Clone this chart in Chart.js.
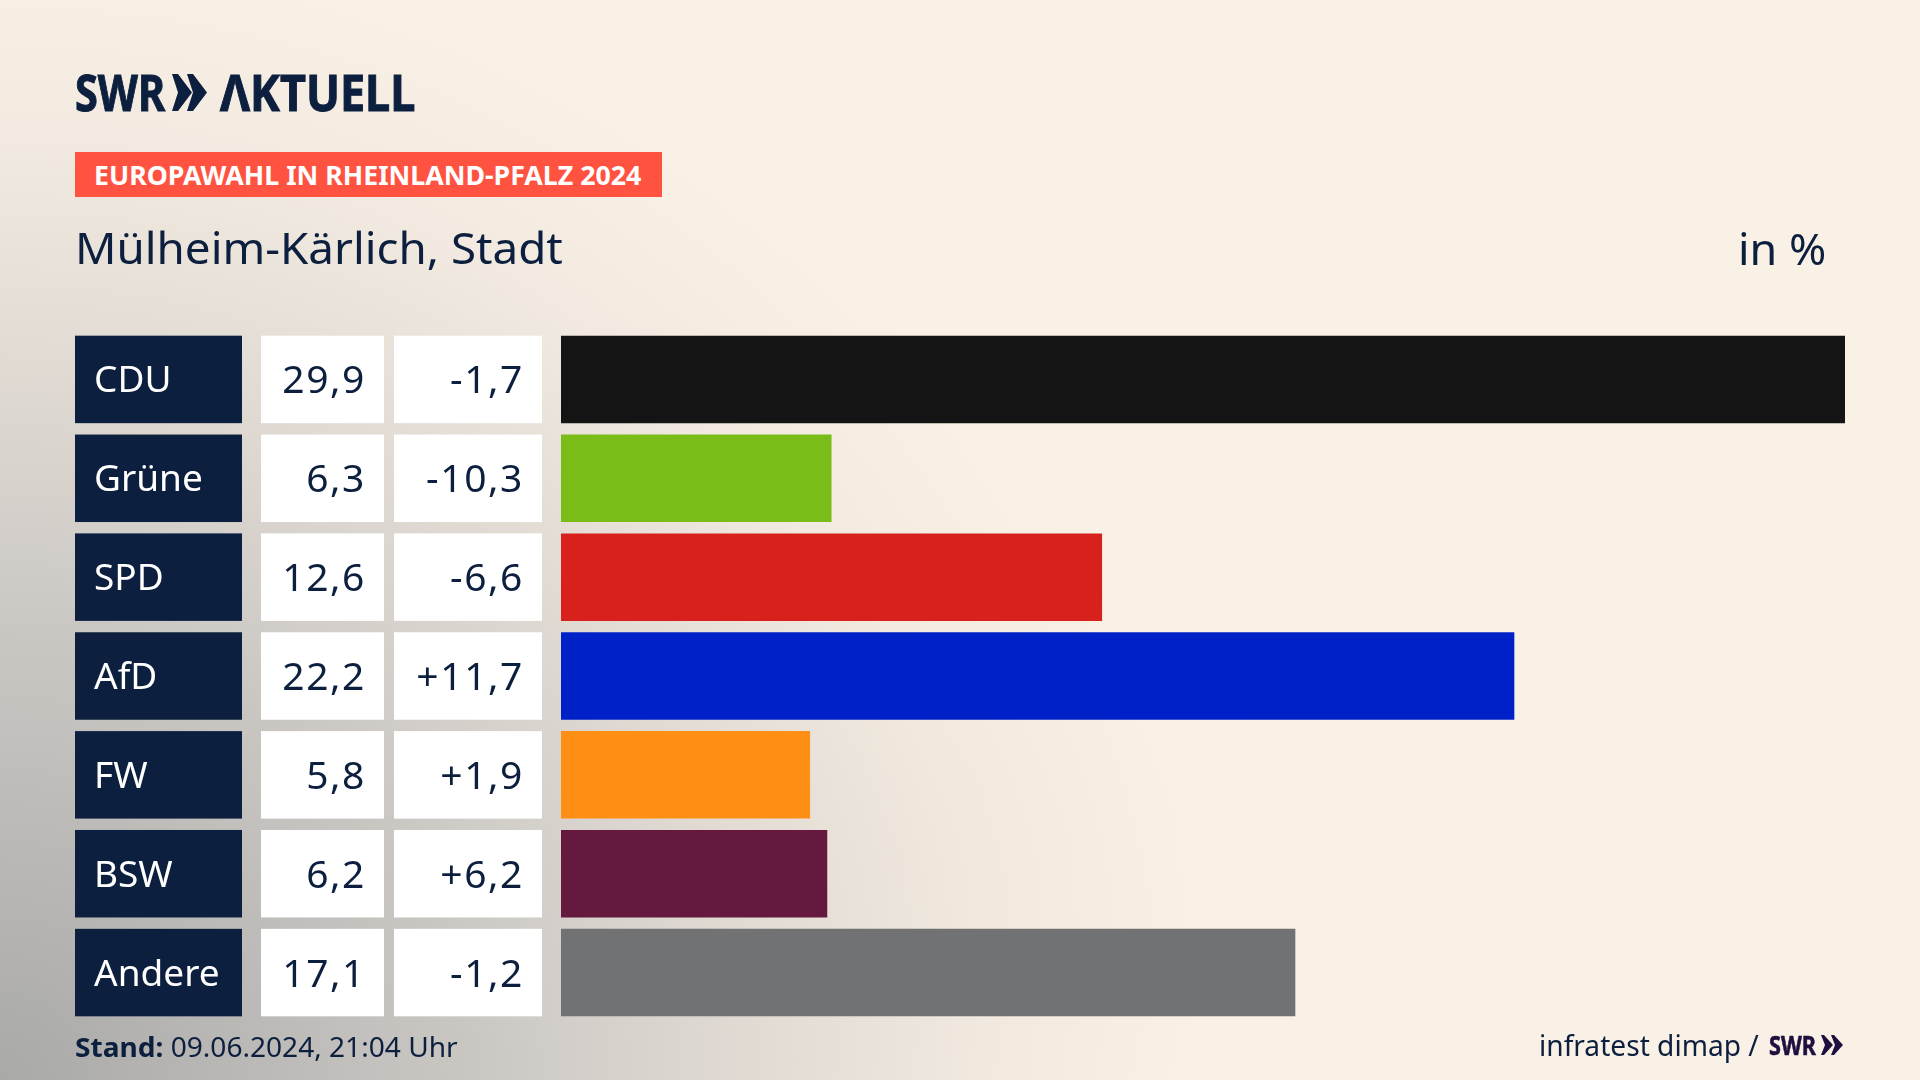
<!DOCTYPE html>
<html lang="de">
<head>
<meta charset="utf-8">
<title>Europawahl in Rheinland-Pfalz 2024</title>
<script src="https://cdn.jsdelivr.net/npm/chart.js@4"></script>
<style>
  html, body { margin: 0; width: 1920px; height: 1080px; overflow: hidden; }
  body {
    position: relative;
    color: #0c1f3e;
    font-family: "Noto Sans", sans-serif;
    background-color: #faf1e6;
    background-image:
      radial-gradient(ellipse 420px 330px at 900px 850px, rgba(226,214,200,.12), rgba(226,214,200,0)),
      radial-gradient(ellipse 1200px 1150px at 0 1080px, #a9a9a8 0%, #c9c6c2 38%, #e0dad3 62%, #f2eae0 82%, #faf1e6 100%);
  }
  #chart { position: absolute; left: 0; top: 0; }
  .txt { position: absolute; white-space: nowrap; transform-origin: left top; }
  #logo { left: 75px; top: 58px; font-size: 50px; font-weight: 700; line-height: 68px; transform: scaleX(.83); -webkit-text-stroke: 1px #0c1f3e; }
  #chev { position: absolute; left: 172px; top: 73px; }
  #logo2 { left: 220px; top: 58px; font-size: 50px; font-weight: 700; line-height: 68px; transform: scaleX(.9); -webkit-text-stroke: 1px #0c1f3e; }
  #banner { position: absolute; left: 75px; top: 152px; width: 587px; height: 45px; background: #ff5240; }
  #bannerText { left: 94px; top: 156px; font-size: 27px; font-weight: 700; line-height: 37px; color: #fff; transform: scaleX(.99); }
  #title { left: 75px; top: 217px; font-size: 44px; line-height: 60px; transform: scaleX(1.04); }
  #unit { left: 1738px; top: 218px; font-size: 44px; line-height: 60px; transform: scaleX(1.02); }
  #stand { left: 75px; top: 1028px; font-size: 27px; line-height: 38px; transform: scaleX(1.04); }
  #stand b { font-weight: 700; }
  #source { left: 1539px; top: 1025px; font-size: 29px; line-height: 40px; transform: scaleX(.97); }
  #swr2 { left: 1769px; top: 1027px; font-size: 27px; font-weight: 700; line-height: 36px; color: #1f0f3f; transform: scaleX(.8); -webkit-text-stroke: .6px #1f0f3f; }
  #chev2 { position: absolute; left: 1821px; top: 1035px; }
</style>
</head>
<body>
<canvas id="chart" width="1920" height="1080"></canvas>
<div class="txt" id="logo">SWR</div>
<svg id="chev" width="36" height="39" viewBox="0 0 36 39"><path fill="#0c1f3e" d="M0 1 L6 1 L20 19.5 L6 38 L0 38 L6 19.5Z M15 1 L21 1 L35 19.5 L21 38 L15 38 L21 19.5Z"/></svg>
<div class="txt" id="logo2">ΛKTUELL</div>
<div id="banner"></div>
<div class="txt" id="bannerText">EUROPAWAHL IN RHEINLAND-PFALZ 2024</div>
<div class="txt" id="title">Mülheim-Kärlich, Stadt</div>
<div class="txt" id="unit">in %</div>
<div class="txt" id="stand"><b>Stand:</b> 09.06.2024, 21:04 Uhr</div>
<div class="txt" id="source">infratest dimap /</div>
<div class="txt" id="swr2">SWR</div>
<svg id="chev2" width="23" height="20" viewBox="0 0 23 20"><path fill="#1f0f3f" d="M0 0 L3 0 L12 10 L3 20 L0 20 L4 10Z M10 0 L13 0 L22 10 L13 20 L10 20 L14 10Z"/></svg>
<script>
const parties = ["CDU", "Grüne", "SPD", "AfD", "FW", "BSW", "Andere"];
const shares = [29.9, 6.3, 12.6, 22.2, 5.8, 6.2, 17.1];
const changes = [-1.7, -10.3, -6.6, 11.7, 1.9, 6.2, -1.2];
const barColors = ["#141414", "#7abd19", "#d8201c", "#0021c8", "#ff8f14", "#66193f", "#717274"];

const navy = "#0c1f3e";

const fmt = (v) => v.toFixed(1).replace(".", ",");
const fmtChange = (v) => (v > 0 ? "+" : "") + fmt(v);

// table cells left of the bars, lined up with the category scale
const tablePlugin = {
  id: "resultTable",
  afterDatasetsDraw: (chart) => {
    const { ctx } = chart;
    const yScale = chart.scales.y;
    const bars = chart.getDatasetMeta(0).data;
    ctx.save();
    ctx.textBaseline = "alphabetic";
    parties.forEach((party, i) => {
      const yMid = yScale.getPixelForValue(i);
      const h = bars[i].height;
      const top = yMid - h / 2;

      ctx.fillStyle = navy;
      ctx.fillRect(75, top, 167, h);
      ctx.fillStyle = "#fff";
      ctx.fillRect(261, top, 123, h);
      ctx.fillRect(394, top, 148, h);

      ctx.font = '37px "Noto Sans", sans-serif';
      ctx.letterSpacing = "0px";
      ctx.fillStyle = "#fff";
      ctx.textAlign = "left";
      ctx.fillText(party, 94, yMid + 13);

      ctx.font = '39px "Noto Sans", sans-serif';
      ctx.letterSpacing = "1.6px";
      ctx.fillStyle = navy;
      ctx.textAlign = "right";
      ctx.fillText(fmt(shares[i]), 366, yMid + 14);
      ctx.fillText(fmtChange(changes[i]), 524, yMid + 14);
    });
    ctx.restore();
  },
};

new Chart(document.getElementById("chart").getContext("2d"), {
  type: "bar",
  data: {
    labels: parties,
    datasets: [
      {
        data: shares,
        backgroundColor: barColors,
        borderWidth: 0,
        barPercentage: 0.885,
        categoryPercentage: 1,
      },
    ],
  },
  plugins: [tablePlugin],
  options: {
    indexAxis: "y",
    responsive: false,
    animation: false,
    devicePixelRatio: 1,
    layout: { padding: { left: 561, right: 75, top: 330, bottom: 58 } },
    scales: {
      x: { min: 0, max: 29.9, display: false },
      y: { display: false },
    },
    plugins: { legend: { display: false }, tooltip: { enabled: false } },
  },
});
</script>
</body>
</html>
